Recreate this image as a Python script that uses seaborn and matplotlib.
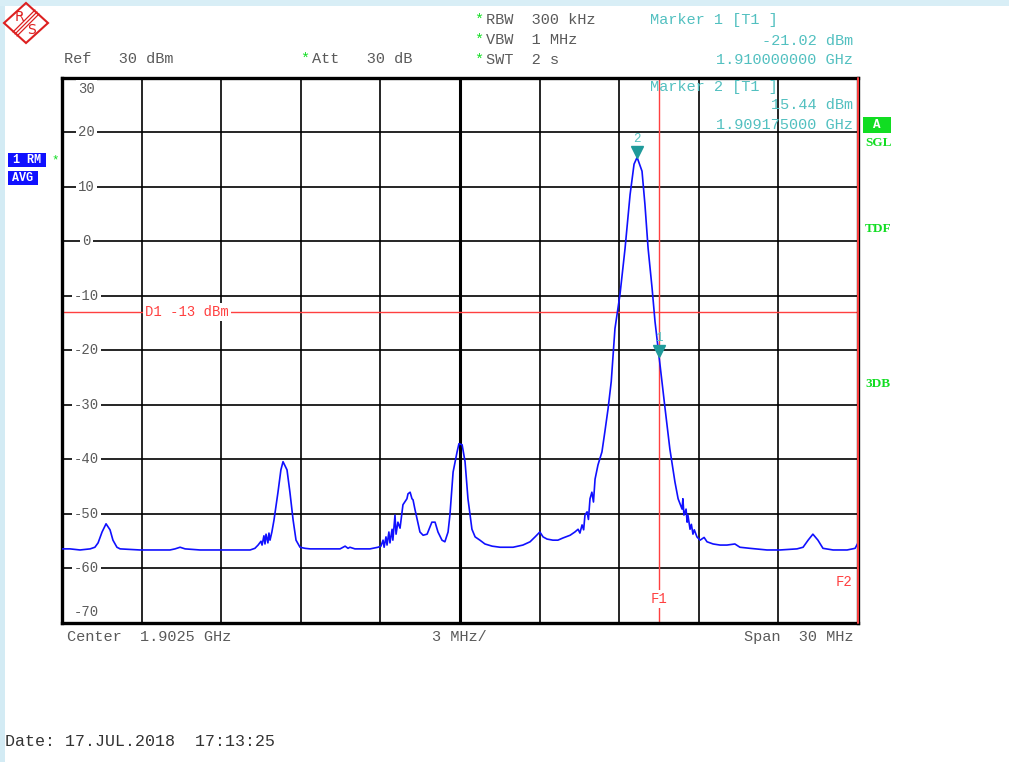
import matplotlib
matplotlib.use("Agg")
import numpy as np
import pandas as pd
import matplotlib.pyplot as plt
import matplotlib.patches as mpatches
from matplotlib import transforms
import seaborn as sns

# --- trace: frequency (MHz) / level (dBm) ---
freq_mhz = [
    1887.50, 1887.80, 1888.18, 1888.56, 1888.74, 1888.86, 1889.01, 1889.16, 1889.31, 1889.42,
    1889.57, 1889.69, 1890.44, 1891.57, 1891.76, 1891.95, 1892.14, 1892.70, 1894.59, 1894.77,
    1894.89, 1895.00, 1895.04, 1895.11, 1895.15, 1895.19, 1895.26, 1895.30, 1895.34, 1895.41,
    1895.49, 1895.64, 1895.75, 1895.83, 1895.98, 1896.09, 1896.21, 1896.32, 1896.47, 1896.66,
    1896.85, 1897.98, 1898.09, 1898.17, 1898.28, 1898.35, 1898.54, 1899.11, 1899.41, 1899.52,
    1899.60, 1899.64, 1899.71, 1899.75, 1899.82, 1899.86, 1899.94, 1899.97, 1900.05, 1900.09,
    1900.16, 1900.24, 1900.35, 1900.50, 1900.54, 1900.62, 1900.69, 1900.73, 1900.80, 1900.88,
    1900.99, 1901.11, 1901.26, 1901.44, 1901.56, 1901.67, 1901.82, 1901.93, 1902.05, 1902.12,
    1902.24, 1902.39, 1902.46, 1902.58, 1902.69, 1902.80, 1902.95, 1903.07, 1903.25, 1903.44,
    1903.71, 1904.01, 1904.50, 1904.87, 1905.14, 1905.33, 1905.51, 1905.63, 1905.78, 1906.00,
    1906.19, 1906.38, 1906.65, 1906.83, 1906.95, 1907.02, 1907.10, 1907.16, 1907.21, 1907.29,
    1907.34, 1907.40, 1907.47, 1907.53, 1907.59, 1907.70, 1907.85, 1907.96, 1908.08, 1908.20,
    1908.34, 1908.53, 1908.72, 1908.91, 1909.06, 1909.175, 1909.36, 1909.47, 1909.59, 1909.74,
    1909.85, 1910.00, 1910.11, 1910.23, 1910.41, 1910.60, 1910.72, 1910.87, 1910.90, 1910.94,
    1911.02, 1911.06, 1911.09, 1911.17, 1911.22, 1911.28, 1911.33, 1911.43, 1911.55, 1911.70,
    1911.81, 1912.04, 1912.30, 1912.56, 1912.86, 1913.05, 1913.43, 1914.07, 1914.56, 1915.20,
    1915.43, 1915.62, 1915.80, 1915.99, 1916.18, 1916.56, 1917.09, 1917.39, 1917.50,
]
level_dbm = [
    -56.4, -56.4, -56.6, -56.4, -56.1, -55.3, -53.3, -51.8, -52.9, -54.8,
    -56.1, -56.4, -56.6, -56.6, -56.4, -56.1, -56.4, -56.6, -56.6, -56.3,
    -55.7, -55.0, -55.7, -54.0, -55.5, -53.7, -55.3, -53.5, -54.8, -53.3,
    -51.1, -46.0, -41.9, -40.4, -41.9, -46.0, -51.1, -54.8, -56.1, -56.3,
    -56.4, -56.4, -56.1, -55.9, -56.3, -56.1, -56.4, -56.4, -56.1, -55.9,
    -54.8, -56.1, -54.2, -55.7, -53.3, -55.3, -52.8, -54.8, -50.2, -53.7,
    -51.5, -52.6, -48.3, -47.2, -46.3, -46.0, -47.2, -47.4, -49.1, -50.9,
    -53.3, -53.9, -53.7, -51.5, -51.5, -53.3, -54.8, -55.1, -53.3, -50.2,
    -42.3, -38.6, -37.1, -37.3, -40.4, -47.2, -52.8, -54.2, -54.8, -55.5,
    -55.9, -56.1, -56.1, -55.7, -55.1, -54.2, -53.3, -54.2, -54.6, -54.8,
    -54.8, -54.4, -53.9, -53.3, -52.8, -53.5, -52.0, -52.9, -50.2, -49.6,
    -51.0, -47.2, -46.0, -47.8, -43.6, -41.0, -38.6, -34.9, -30.7, -25.7,
    -16.0, -9.7, -1.3, 8.6, 14.2, 15.44, 12.9, 6.8, -1.3, -8.6,
    -14.7, -21.02, -25.7, -30.7, -38.1, -44.1, -47.2, -49.1, -47.2, -50.2,
    -49.1, -51.5, -50.2, -52.8, -51.9, -53.7, -52.9, -54.2, -54.8, -54.3,
    -55.1, -55.5, -55.7, -55.7, -55.5, -56.1, -56.3, -56.6, -56.6, -56.4,
    -56.1, -54.8, -53.7, -54.8, -56.3, -56.6, -56.6, -56.3, -55.3,
]

start_mhz, stop_mhz = 1887.5, 1917.5
y_ticks = [30, 20, 10, 0, -10, -20, -30, -40, -50, -60, -70]
d1_level = -13
f1_mhz = 1910.0
f2_mhz = 1917.5
marker_ids = ["1", "2"]
marker_freq = [1910.0, 1909.175]
marker_level = [-21.02, 15.44]

W, H = 1009, 762
def px(x, y):
    return x / W, 1 - y / H

GRAY = "#5a5a5a"
TEAL = "#52c0c0"
GREEN = "#11dd22"
RED = "#ff4040"
BLUE = "#1010ff"

sns.set_theme(style="white")
plt.rcParams['font.family'] = ['Liberation Mono', 'DejaVu Sans Mono']

fig = plt.figure(figsize=(W / 100, H / 100), dpi=100)
fig.patch.set_facecolor("white")

# faint watermark edges of the screenshot
fig.add_artist(mpatches.Rectangle((0, 0), 5 / W, 1, transform=fig.transFigure, color="#d3ebf4", lw=0))
fig.add_artist(mpatches.Rectangle((0, 1 - 6 / H), 1, 6 / H, transform=fig.transFigure, color="#d8eef6", lw=0))

ax = fig.add_axes([62 / W, 1 - 623 / H, 796 / W, 545 / H])
df = pd.DataFrame({"freq": freq_mhz, "level": level_dbm})
sns.lineplot(data=df, x="freq", y="level", ax=ax, color=BLUE, lw=1.2,
             estimator=None, sort=False, zorder=4)

ax.set_xlim(start_mhz, stop_mhz)
ax.set_ylim(-70, 30)
ax.set_xticks(np.arange(start_mhz, stop_mhz + 0.1, 3))
ax.set_yticks(y_ticks)
ax.set_axisbelow(True)
ax.grid(True, color="black", lw=1.2)
ax.tick_params(length=0, labelbottom=False, labelleft=False)
ax.set_xlabel("")
ax.set_ylabel("")
for sp in ax.spines.values():
    sp.set_color("black")
    sp.set_linewidth(2.4)
# center line is drawn heavier
ax.axvline((start_mhz + stop_mhz) / 2, color="black", lw=2.2, zorder=1)

# y labels printed inside the grid
yt = transforms.blended_transform_factory(ax.transAxes, ax.transData)
for v in y_ticks:
    ypos = v
    if v == 30:
        ypos = 27.9
    elif v == -70:
        ypos = -68.0
    ax.text(0.031, ypos, str(v), transform=yt, ha="center", va="center",
            fontsize=10, color=GRAY, zorder=3,
            bbox=dict(boxstyle="square,pad=0.15", fc="white", ec="none"))

# display line and frequency lines
ax.axhline(d1_level, color=RED, lw=1.0, zorder=2)
ax.text(1890.63, d1_level, "D1 -13 dBm", ha="left", va="center", fontsize=10, color=RED,
        zorder=3, bbox=dict(boxstyle="square,pad=0.15", fc="white", ec="none"))
ax.axvline(f1_mhz, color=RED, lw=1.0, zorder=2)
ax.text(f1_mhz, -65.6, "F1", ha="center", va="center", fontsize=10, color=RED,
        zorder=3, bbox=dict(boxstyle="square,pad=0.15", fc="white", ec="none"))
ax.axvline(f2_mhz, color=RED, lw=1.4, zorder=5, clip_on=False)
ax.text(1917.3, -62.5, "F2", ha="right", va="center", fontsize=10, color=RED, zorder=3)

# markers
lift = transforms.offset_copy(ax.transData, fig=fig, y=4, units="points")
for mid, mf, ml in zip(marker_ids, marker_freq, marker_level):
    ax.plot([mf], [ml], marker="v", ms=8, color="#1f9a9a", transform=lift, zorder=6)
    ax.annotate(mid, (mf, ml), xytext=(0, 13), textcoords="offset points",
                ha="center", va="center", fontsize=9, color=TEAL, zorder=6)

# header texts
fig.text(*px(64, 59), "Ref   30 dBm", fontsize=11, color=GRAY, va="center")
fig.text(*px(300, 59), "*", fontsize=11, color=GREEN, va="center")
fig.text(*px(312, 59), "Att   30 dB", fontsize=11, color=GRAY, va="center")
for yy, s in [(20, "RBW  300 kHz"), (40, "VBW  1 MHz"), (60, "SWT  2 s")]:
    fig.text(*px(474, yy), "*", fontsize=11, color=GREEN, va="center")
    fig.text(*px(486, yy), s, fontsize=11, color=GRAY, va="center")

fig.text(*px(650, 20), "Marker 1 [T1 ]", fontsize=11, color=TEAL, va="center")
fig.text(*px(853, 41), "-21.02 dBm", fontsize=11, color=TEAL, va="center", ha="right")
fig.text(*px(853, 60), "1.910000000 GHz", fontsize=11, color=TEAL, va="center", ha="right")
fig.text(*px(650, 87), "Marker 2 [T1 ]", fontsize=11, color=TEAL, va="center", zorder=5)
fig.text(*px(853, 105), "15.44 dBm", fontsize=11, color=TEAL, va="center", ha="right", zorder=5)
fig.text(*px(853, 125), "1.909175000 GHz", fontsize=11, color=TEAL, va="center", ha="right", zorder=5)

# right hand status labels
fig.add_artist(mpatches.Rectangle(px(863, 133), 28 / W, 16 / H, transform=fig.transFigure,
                                  color="#11dd22", lw=0))
fig.text(*px(877, 125), "A", fontsize=9, color="white", weight="bold", ha="center", va="center")
for yy, s in [(143, "SGL"), (229, "TDF"), (384, "3DB")]:
    fig.text(*px(865, yy), s, fontsize=9.5, color=GREEN, weight="bold", va="center",
             family="Liberation Serif")

# left trace labels
fig.add_artist(mpatches.Rectangle(px(8, 167), 38 / W, 14 / H, transform=fig.transFigure, color=BLUE, lw=0))
fig.text(*px(27, 160), "1 RM", fontsize=8.5, color="white", weight="bold", ha="center", va="center")
fig.text(*px(51, 160), "*", fontsize=9, color=GREEN, va="center")
fig.add_artist(mpatches.Rectangle(px(8, 185), 30 / W, 14 / H, transform=fig.transFigure, color=BLUE, lw=0))
fig.text(*px(23, 178), "AVG", fontsize=8.5, color="white", weight="bold", ha="center", va="center")

# footer texts
fig.text(*px(67, 637), "Center  1.9025 GHz", fontsize=11, color=GRAY, va="center")
fig.text(*px(432, 637), "3 MHz/", fontsize=11, color=GRAY, va="center")
fig.text(*px(853, 637), "Span  30 MHz", fontsize=11, color=GRAY, va="center", ha="right")
fig.text(*px(5, 741), "Date: 17.JUL.2018  17:13:25", fontsize=12, color="#333333", va="center")

# R&S logo
cx, cy, hw, hh = 26, 23, 22, 20
diamond = [px(cx - hw, cy), px(cx, cy - hh), px(cx + hw, cy), px(cx, cy + hh)]
fig.add_artist(mpatches.Polygon(diamond, closed=True, fill=False, ec="#dd2020", lw=1.5,
                                transform=fig.transFigure))
for d in (-2, 0, 2):
    p0 = px(cx - 11 + d, cy + 11 + d)
    p1 = px(cx + 11 + d, cy - 11 + d)
    fig.add_artist(plt.Line2D([p0[0], p1[0]], [p0[1], p1[1]], color="#dd2020", lw=0.9,
                              transform=fig.transFigure))
fig.text(*px(19, 17), "R", fontsize=10, color="#dd2020", ha="center", va="center", family="DejaVu Sans")
fig.text(*px(32, 30), "S", fontsize=10, color="#dd2020", ha="center", va="center", family="DejaVu Sans")

fig.savefig("out.png", dpi=100)
